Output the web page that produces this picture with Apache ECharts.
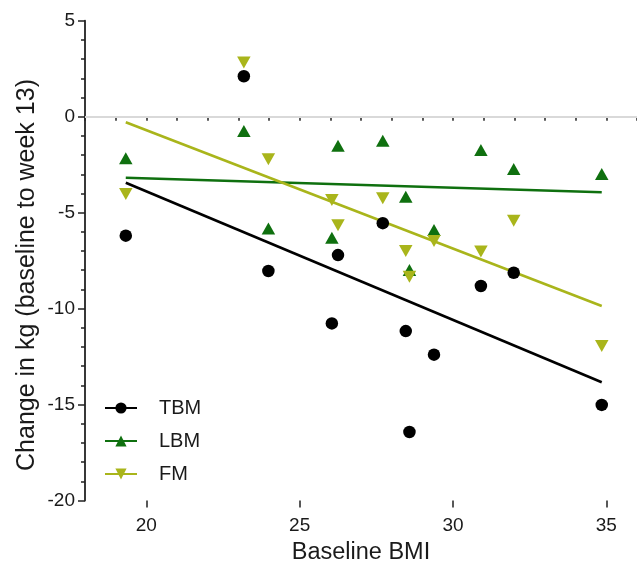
<!DOCTYPE html>
<html>
<head>
<meta charset="utf-8">
<script src="https://cdn.jsdelivr.net/npm/echarts@6/dist/echarts.min.js"></script>
<style>
html,body{margin:0;padding:0;background:#fff;}
#chart{width:637px;height:571px;}
</style>
</head>
<body>
<div id="chart"></div>
<script>
// Baseline BMI of each participant
var bmi = [19.33, 23.18, 23.98, 26.05, 26.25, 27.71, 28.46, 28.58, 29.38, 30.91, 31.98, 34.85];
// Change in kg (baseline to week 13)
var tbm = [-6.20, 2.11, -8.04, -10.77, -7.21, -5.55, -11.17, -16.43, -12.40, -8.82, -8.13, -15.02];
var lbm = [-2.17, -0.75, -5.82, -6.31, -1.51, -1.25, -4.17, -7.99, -5.90, -1.74, -2.73, -2.99];
var fm  = [-4.03, 2.83, -2.22, -4.34, -5.66, -4.25, -7.00, -8.34, -6.48, -7.03, -5.42, -11.95];
// Fitted line values at the lowest and highest BMI
var fitTBM = [-3.44, -13.84];
var fitLBM = [-3.18, -3.94];
var fitFM  = [-0.29, -9.86];
var seriesNames = ['TBM', 'LBM', 'FM'];
var xMajorTicks = [20, 25, 30, 35];
var yTitle = 'Change in kg (baseline to week 13)';
var xTitle = 'Baseline BMI';

var colors = {TBM: '#000000', LBM: '#0f700f', FM: '#a9b51b'};
var downTri = 'path://M0,0L14,0L7,12Z';
var symbols = {TBM: 'circle', LBM: 'triangle', FM: downTri};
var sizes = {TBM: 12.5, LBM: [13.5, 12], FM: [13.5, 12]};
var font = '"Liberation Sans", Arial, Helvetica, sans-serif';

function pairs(xs, ys) { return xs.map(function (x, i) { return [x, ys[i]]; }); }
var xLo = Math.min.apply(null, bmi), xHi = Math.max.apply(null, bmi);
var fits = {TBM: fitTBM, LBM: fitLBM, FM: fitFM};
var vals = {TBM: tbm, LBM: lbm, FM: fm};

var series = [];
// zero reference line
series.push({
  type: 'line', name: '_zero', data: [], silent: true,
  markLine: {
    silent: true, symbol: ['none', 'none'], label: {show: false},
    lineStyle: {color: '#d9d9d9', width: 2, type: 'solid'},
    data: [{yAxis: 0}]
  }
});
seriesNames.forEach(function (n) {
  series.push({
    type: 'line', name: n, data: [[xLo, fits[n][0]], [xHi, fits[n][1]]],
    showSymbol: false, symbol: symbols[n], symbolSize: sizes[n],
    color: colors[n], lineStyle: {color: colors[n], width: 2.6},
    itemStyle: {color: colors[n]}, silent: true, z: 3
  });
});
seriesNames.forEach(function (n) {
  series.push({
    type: 'scatter', name: n, data: pairs(bmi, vals[n]),
    symbol: symbols[n], symbolSize: sizes[n],
    itemStyle: {color: colors[n], opacity: 1}, z: 4
  });
});

var chart = echarts.init(document.getElementById('chart'), null, {renderer: 'canvas'});
chart.setOption({
  animation: false,
  backgroundColor: '#fff',
  grid: {left: 85, top: 20.75, right: 0, bottom: 70.5, containLabel: false},
  legend: {
    data: seriesNames, orient: 'vertical', left: 104, top: 398, padding: 0,
    itemWidth: 32, itemHeight: 14, itemGap: 13,
    textStyle: {fontFamily: font, fontSize: 20, color: '#1a1a1a', padding: [0, 0, 0, 17]},
    selectedMode: false
  },
  graphic: [{
    type: 'text', x: 27, y: 275, rotation: Math.PI / 2, silent: true,
    style: {text: yTitle, fontFamily: font, fontSize: 25, fill: '#1a1a1a', align: 'center', verticalAlign: 'middle'}
  }],
  xAxis: [{
    type: 'value', min: 18, max: 36, interval: 1,
    axisLine: {show: true, lineStyle: {color: '#222', width: 1.8}},
    axisTick: {show: true, length: 4, lineStyle: {color: '#222', width: 1.5}},
    axisLabel: {show: false}, splitLine: {show: false}
  }, {
    type: 'value', min: 18, max: 36, position: 'bottom',
    axisLine: {show: false},
    axisTick: {show: true, length: 7, customValues: xMajorTicks, lineStyle: {color: '#222', width: 1.5}},
    axisLabel: {show: true, customValues: xMajorTicks, margin: 16, fontFamily: font, fontSize: 19, color: '#1a1a1a'},
    splitLine: {show: false},
    name: xTitle, nameLocation: 'middle', nameGap: 39,
    nameTextStyle: {fontFamily: font, fontSize: 23.5, color: '#1a1a1a'}
  }],
  yAxis: {
    type: 'value', min: -20, max: 5, interval: 5,
    axisLine: {show: true, lineStyle: {color: '#222', width: 1.8}},
    axisTick: {show: true, length: 7, lineStyle: {color: '#222', width: 1.5}},
    minorTick: {show: true, splitNumber: 5, length: 4, lineStyle: {color: '#222', width: 1.5}},
    axisLabel: {margin: 10, fontFamily: font, fontSize: 19, color: '#1a1a1a'},
    splitLine: {show: false}
  },
  series: series
});
</script>
</body>
</html>
